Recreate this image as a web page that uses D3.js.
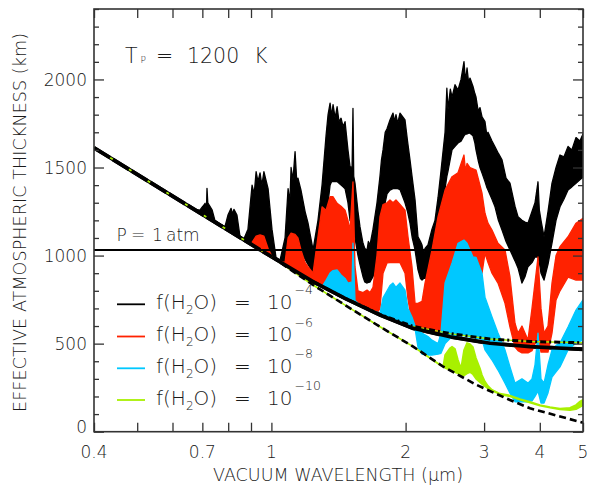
<!DOCTYPE html>
<html>
<head>
<meta charset="utf-8">
<script src="https://cdn.jsdelivr.net/npm/d3@7"></script>
<style>
  html, body { margin: 0; padding: 0; background: #ffffff; }
  svg { display: block; }
  text { font-family: "DejaVu Sans", sans-serif; font-weight: 200; fill: #1a1a1a; }
</style>
</head>
<body>
<svg id="chart" width="589" height="487"></svg>
<script>
// ---- axis ticks ----
const xTicksLabelled = [0.4, 0.7, 1, 2, 3, 4, 5];
const xTicksMinor = [0.5, 0.6, 0.8, 0.9];
const yTicksMajor = [0, 500, 1000, 1500, 2000];
const yTicksMinor = d3.range(0, 2401, 100).filter(v => v % 500 !== 0);

// ---- legend ----
const legendExponents = ["\u22124", "\u22126", "\u22128", "\u221210"];
const seriesColors = ["#000000", "#ff2200", "#00c8ff", "#a8f000"];

// ---- reference levels ----
const pressureLevel = 1032;   // km, P = 1 atm

// Continuum of the 10^-4 model (solid), [wavelength µm, km]
const continuum = [
  [0.4, 1612], [0.691, 1242], [1.003, 992], [1.24, 852], [1.463, 757],
  [1.752, 663], [2.08, 587], [2.516, 539], [3.093, 502], [3.802, 483], [5.0, 468]
];
// Upper window curve (dash-dot)
const windowUpper = [
  [0.4, 1612], [0.691, 1242], [1.003, 992], [1.24, 852], [1.463, 757],
  [1.752, 666], [2.08, 598], [2.516, 557], [3.093, 526], [3.802, 512], [5.0, 505]
];
// Pure Rayleigh curve (dashed)
const rayleigh = [
  [0.4, 1612], [0.691, 1242], [1.003, 992], [1.24, 833], [1.463, 719],
  [1.752, 596], [2.08, 483], [2.43, 369], [2.888, 265], [3.429, 180],
  [3.802, 133], [5.0, 51]
];

// Spectra as [wavelength µm, lower envelope km, upper envelope km]
const spectrumH2O4 = [
  [0.4, 1612, 1612], [0.674, 1260, 1262], [0.691, 1242, 1258], [0.702, 1236, 1280],
  [0.710, 1225, 1297], [0.715, 1222, 1260], [0.717, 1219, 1382], [0.720, 1216, 1300],
  [0.724, 1212, 1290], [0.736, 1202, 1260],
  [0.747, 1191, 1200], [0.767, 1173, 1180], [0.787, 1155, 1165], [0.799, 1150, 1230],
  [0.812, 1136, 1268], [0.818, 1130, 1235], [0.824, 1124, 1262], [0.837, 1115, 1230],
  [0.850, 1103, 1110], [0.868, 1090, 1095], [0.886, 1078, 1150], [0.905, 1070, 1400],
  [0.915, 1080, 1350], [0.924, 1090, 1476], [0.933, 1100, 1420], [0.943, 1120, 1470],
  [0.952, 1115, 1400], [0.962, 1110, 1476], [0.983, 1050, 1380], [1.003, 996, 1150],
  [1.024, 980, 990], [1.046, 965, 975], [1.073, 948, 1100], [1.090, 1000, 1380],
  [1.100, 1030, 1300], [1.107, 1050, 1500], [1.118, 1055, 1430], [1.130, 1060, 1590],
  [1.140, 1055, 1420], [1.147, 1050, 1440], [1.165, 1020, 1371],
  [1.190, 980, 1250], [1.208, 950, 1185], [1.240, 901, 1032], [1.272, 940, 1200],
  [1.299, 1000, 1400], [1.326, 1100, 1680], [1.340, 1300, 1800], [1.354, 1400, 1866],
  [1.365, 1420, 1790], [1.375, 1420, 1857], [1.390, 1420, 1780], [1.404, 1420, 1845],
  [1.418, 1410, 1760], [1.433, 1400, 1780], [1.448, 1390, 1732], [1.463, 1380, 1760],
  [1.485, 1300, 1600], [1.501, 1200, 1505], [1.517, 1180, 1500], [1.524, 1150, 1836],
  [1.530, 1130, 1450], [1.540, 1100, 1412],
  [1.564, 1000, 1250], [1.580, 950, 1164], [1.605, 880, 1070], [1.620, 850, 1040],
  [1.639, 844, 1032], [1.650, 848, 1080], [1.664, 850, 1060], [1.690, 880, 1150],
  [1.725, 950, 1298], [1.752, 1050, 1450], [1.765, 1120, 1540],
  [1.780, 1200, 1600], [1.800, 1300, 1700], [1.817, 1350, 1720], [1.845, 1372, 1770],
  [1.874, 1380, 1809], [1.890, 1380, 1760], [1.903, 1380, 1800], [1.920, 1380, 1750],
  [1.943, 1375, 1809], [1.994, 1300, 1770], [2.020, 1250, 1650], [2.046, 1184, 1543],
  [2.070, 1100, 1440], [2.100, 1032, 1316], [2.132, 920, 1107], [2.160, 870, 1080],
  [2.177, 861, 1060], [2.195, 870, 1010], [2.211, 870, 1040],
  [2.245, 880, 1060], [2.292, 960, 1150], [2.328, 1020, 1200], [2.365, 1100, 1330],
  [2.401, 1200, 1480], [2.452, 1380, 1700], [2.475, 1450, 1950], [2.490, 1480, 1830],
  [2.520, 1550, 1945], [2.542, 1600, 1900], [2.582, 1620, 1970], [2.622, 1639, 1940],
  [2.663, 1650, 2000], [2.704, 1680, 2101], [2.725, 1690, 1990], [2.747, 1690, 2065],
  [2.770, 1695, 1980], [2.789, 1695, 2008], [2.833, 1680, 1960], [2.860, 1640, 1920],
  [2.877, 1600, 1900], [2.910, 1540, 1820], [2.937, 1500, 1840], [2.968, 1468, 1787],
  [3.014, 1420, 1760], [3.040, 1390, 1690], [3.061, 1372, 1700],
  [3.125, 1320, 1650], [3.174, 1277, 1618], [3.230, 1200, 1580], [3.291, 1145, 1543],
  [3.360, 1080, 1440], [3.429, 1032, 1411],
  [3.519, 970, 1280], [3.574, 930, 1221], [3.648, 844, 1200], [3.705, 880, 1190],
  [3.763, 937, 1184], [3.842, 960, 1250], [3.902, 992, 1300], [3.963, 992, 1419],
  [3.990, 960, 1260], [4.025, 900, 1200], [4.088, 861, 1107], [4.173, 950, 1250],
  [4.260, 1071, 1411], [4.350, 1200, 1500], [4.440, 1277, 1571], [4.530, 1320, 1560],
  [4.628, 1372, 1620], [4.720, 1390, 1600], [4.823, 1411, 1670], [4.920, 1430, 1650],
  [5.0, 1446, 1690]
];
const spectrumH2O6 = [
  [0.905, 1070, 1075], [0.924, 1052, 1110], [0.943, 1034, 1117], [0.962, 1016, 1110],
  [0.983, 1000, 1040], [1.003, 992, 995], [1.046, 965, 968], [1.073, 948, 960],
  [1.090, 940, 1100], [1.107, 931, 1127], [1.130, 914, 1120], [1.147, 905, 1100],
  [1.165, 897, 1032], [1.190, 880, 960], [1.208, 870, 937], [1.240, 852, 900],
  [1.272, 835, 1107], [1.299, 820, 1277], [1.326, 810, 1258], [1.354, 800, 1334],
  [1.375, 795, 1334], [1.404, 780, 1297], [1.433, 770, 1280], [1.463, 760, 1258],
  [1.485, 755, 1200], [1.501, 750, 1145], [1.524, 745, 1419], [1.540, 740, 937],
  [1.564, 725, 800], [1.605, 710, 790], [1.639, 698, 804], [1.664, 688, 790],
  [1.690, 680, 820], [1.725, 672, 1000], [1.752, 700, 1221], [1.780, 900, 1290],
  [1.817, 958, 1300], [1.845, 960, 1316], [1.874, 960, 1300], [1.903, 960, 1316],
  [1.943, 960, 1290], [1.994, 900, 1258], [2.025, 750, 1107], [2.067, 620, 937],
  [2.100, 585, 729], [2.132, 578, 729], [2.177, 570, 740], [2.211, 565, 844],
  [2.292, 560, 1032], [2.365, 555, 1221], [2.452, 560, 1372], [2.542, 900, 1448],
  [2.622, 1000, 1470], [2.704, 1030, 1571], [2.725, 1030, 1480], [2.747, 1020, 1524],
  [2.789, 1000, 1500], [2.877, 960, 1486],
  [2.968, 900, 1354], [3.014, 1013, 1240], [3.061, 960, 1184], [3.125, 900, 1145],
  [3.223, 844, 1070], [3.342, 729, 1032], [3.429, 594, 880], [3.519, 481, 616],
  [3.574, 460, 560], [3.648, 447, 600], [3.763, 447, 520], [3.842, 460, 700],
  [3.963, 538, 992], [4.025, 452, 700], [4.088, 452, 560], [4.173, 452, 600],
  [4.260, 560, 844], [4.350, 748, 1000], [4.440, 800, 1050], [4.628, 878, 1107],
  [4.823, 861, 1184], [5.0, 861, 1212]
];
const spectrumH2O8 = [
  [1.272, 830, 835], [1.299, 820, 823], [1.326, 810, 860], [1.354, 800, 901],
  [1.375, 795, 915], [1.404, 780, 918], [1.433, 770, 890], [1.463, 760, 870],
  [1.485, 755, 844], [1.517, 748, 850], [1.524, 745, 1070], [1.540, 740, 745],
  [1.580, 716, 720], [1.690, 680, 684], [1.725, 672, 680], [1.752, 663, 672],
  [1.780, 655, 760], [1.817, 645, 800], [1.845, 640, 830], [1.874, 632, 844],
  [1.903, 625, 820], [1.943, 615, 844], [1.994, 605, 804], [2.025, 598, 700],
  [2.067, 590, 651], [2.100, 585, 600], [2.132, 480, 585], [2.177, 440, 560],
  [2.245, 435, 540], [2.292, 435, 520], [2.365, 440, 500], [2.401, 445, 560],
  [2.452, 500, 844], [2.542, 540, 958], [2.622, 545, 1070], [2.704, 545, 1088],
  [2.747, 540, 1070], [2.833, 535, 992], [2.877, 530, 990], [2.968, 525, 900],
  [3.014, 464, 764], [3.125, 407, 651], [3.223, 350, 560], [3.342, 276, 464],
  [3.429, 219, 368], [3.519, 170, 276], [3.648, 170, 300], [3.763, 170, 276],
  [3.842, 175, 300], [3.902, 200, 380], [3.963, 230, 560], [4.025, 163, 300],
  [4.088, 163, 276], [4.173, 220, 380], [4.260, 310, 464], [4.350, 340, 490],
  [4.440, 368, 503], [4.628, 464, 594], [4.823, 503, 691], [5.0, 521, 748]
];
const spectrumH2O10 = [
  [0.4, 1612, 1612], [0.691, 1242, 1242], [1.003, 992, 992], [1.24, 833, 833],
  [1.463, 719, 719], [1.752, 596, 596], [2.08, 483, 483], [2.389, 378, 380],
  [2.430, 369, 375], [2.452, 362, 436], [2.516, 350, 475], [2.542, 345, 483],
  [2.582, 338, 470], [2.622, 330, 407], [2.663, 322, 360], [2.704, 318, 464],
  [2.747, 330, 504], [2.789, 338, 498], [2.833, 325, 480], [2.877, 300, 418],
  [2.937, 280, 360], [2.968, 270, 322], [3.014, 258, 285], [3.061, 245, 260],
  [3.125, 232, 238], [3.257, 212, 216], [3.429, 200, 206], [3.611, 182, 186],
  [3.802, 165, 170], [4.004, 148, 152], [4.216, 136, 140], [4.44, 126, 131],
  [4.676, 122, 136], [4.823, 127, 152], [4.923, 140, 172], [5.0, 150, 182]
];
const spectra = [spectrumH2O4, spectrumH2O6, spectrumH2O8, spectrumH2O10];

// ---- layout ----
const plot = { left: 94, right: 583, top: 9, bottom: 431.7 };

const svg = d3.select("#chart");
const x = d3.scaleLog().domain([0.4, 5]).range([plot.left, plot.right]);
const y = d3.scaleLinear().domain([0, 2400]).range([plot.bottom, plot.top]);

svg.append("defs").append("clipPath").attr("id", "plotClip")
  .append("rect")
  .attr("x", plot.left).attr("y", plot.top)
  .attr("width", plot.right - plot.left).attr("height", plot.bottom - plot.top);

const g = svg.append("g").attr("clip-path", "url(#plotClip)");

const line = d3.line().x(d => x(d[0])).y(d => y(d[1]));
const band = d3.area().x(d => x(d[0])).y0(d => y(d[1])).y1(d => y(d[2]));

// continuum underneath the black spectrum
g.append("path").datum(continuum).attr("d", line)
  .attr("fill", "none").attr("stroke", "#000").attr("stroke-width", 3.8);

// spectra, drawn from the most humid to the driest
spectra.forEach((s, i) => {
  g.append("path").datum(s).attr("d", band)
    .attr("fill", seriesColors[i]).attr("stroke", seriesColors[i])
    .attr("stroke-width", i === 3 ? 1.6 : 1.3).attr("stroke-linejoin", "round");
});

// driest model along the upper window curve
g.append("path").datum(windowUpper.filter(d => d[0] >= 1.9)).attr("d", line)
  .attr("fill", "none").attr("stroke", seriesColors[3]).attr("stroke-width", 1.4);

// overlays: continuum, window curve (dash-dot) and Rayleigh curve (dashed)
g.append("path").datum(continuum.filter(d => d[0] >= 1.0)).attr("d", line)
  .attr("fill", "none").attr("stroke", "#000").attr("stroke-width", 3.6);
g.append("path").datum(windowUpper.filter(d => d[0] >= 1.24)).attr("d", line)
  .attr("fill", "none").attr("stroke", "#000").attr("stroke-width", 3)
  .attr("stroke-dasharray", "6,3,2,3");
g.append("path").datum(rayleigh.filter(d => d[0] <= 1.003)).attr("d", line)
  .attr("fill", "none").attr("stroke", "#000").attr("stroke-width", 3.8)
  .attr("stroke-dasharray", "19,3");
g.append("path").datum(rayleigh.filter(d => d[0] >= 1.003)).attr("d", line)
  .attr("fill", "none").attr("stroke", "#000").attr("stroke-width", 2.6)
  .attr("stroke-dasharray", "7,4");

// P = 1 atm level
g.append("line")
  .attr("x1", plot.left).attr("x2", plot.right)
  .attr("y1", y(pressureLevel)).attr("y2", y(pressureLevel))
  .attr("stroke", "#000").attr("stroke-width", 2);

// ---- frame and axes ----
const axisColor = "#333";
function styleAxis(sel) {
  sel.select(".domain").remove();
  sel.selectAll(".tick line").attr("stroke", axisColor).attr("stroke-width", 1.3);
  sel.selectAll("text").remove();
}
const xAllTicks = xTicksLabelled.concat(xTicksMinor);
svg.append("g").attr("transform", `translate(0,${plot.bottom})`)
  .call(d3.axisBottom(x).tickValues(xAllTicks).tickSize(-9)).call(styleAxis);
svg.append("g").attr("transform", `translate(0,${plot.top})`)
  .call(d3.axisTop(x).tickValues(xAllTicks).tickSize(-9)).call(styleAxis);
svg.append("g").attr("transform", `translate(${plot.left},0)`)
  .call(d3.axisLeft(y).tickValues(yTicksMajor).tickSize(-10)).call(styleAxis);
svg.append("g").attr("transform", `translate(${plot.left},0)`)
  .call(d3.axisLeft(y).tickValues(yTicksMinor).tickSize(-5)).call(styleAxis);
svg.append("g").attr("transform", `translate(${plot.right},0)`)
  .call(d3.axisRight(y).tickValues(yTicksMajor).tickSize(-10)).call(styleAxis);
svg.append("g").attr("transform", `translate(${plot.right},0)`)
  .call(d3.axisRight(y).tickValues(yTicksMinor).tickSize(-5)).call(styleAxis);

svg.append("rect")
  .attr("x", plot.left).attr("y", plot.top)
  .attr("width", plot.right - plot.left).attr("height", plot.bottom - plot.top)
  .attr("fill", "none").attr("stroke", axisColor).attr("stroke-width", 1.6);

// tick labels
svg.append("g").selectAll("text").data(xTicksLabelled).join("text")
  .attr("x", d => x(d)).attr("y", 458)
  .attr("text-anchor", "middle").attr("font-size", 17)
  .text(d => d3.format("")(d));
svg.append("g").selectAll("text").data(yTicksMajor).join("text")
  .attr("x", 87).attr("y", d => d === 0 ? y(d) + 1.5 : y(d) + 6.5)
  .attr("text-anchor", "end").attr("font-size", 17)
  .text(d => d);

// axis titles
svg.append("text")
  .attr("x", 338).attr("y", 481).attr("text-anchor", "middle")
  .attr("font-size", 17.5).attr("textLength", 250)
  .text("VACUUM WAVELENGTH (\u03bcm)");
svg.append("text")
  .attr("transform", "translate(26,222.5) rotate(-90)")
  .attr("text-anchor", "middle").attr("font-size", 17.5).attr("textLength", 379)
  .text("EFFECTIVE ATMOSPHERIC THICKNESS (km)");

// title
const title = svg.append("g");
title.append("text").attr("x", 125).attr("y", 63).attr("font-size", 20.5).text("T");
title.append("text").attr("x", 140.5).attr("y", 63).attr("font-size", 9).attr("font-weight", 700).text("P");
title.append("text").attr("x", 156).attr("y", 63).attr("font-size", 20.5).text("=");
title.append("text").attr("x", 187).attr("y", 63).attr("font-size", 20.5).text("1200");
title.append("text").attr("x", 254).attr("y", 63).attr("font-size", 20.5).text("K");

// pressure label
const pLabel = svg.append("g");
pLabel.append("text").attr("x", 116.5).attr("y", 240.5).attr("font-size", 17).text("P");
pLabel.append("text").attr("x", 131).attr("y", 240.5).attr("font-size", 17).text("=");
pLabel.append("text").attr("x", 152).attr("y", 240.5).attr("font-size", 17).text("1");
pLabel.append("text").attr("x", 166).attr("y", 240.5).attr("font-size", 17).text("atm");

// legend
const legendRows = [304.3, 336.5, 368.3, 400];
legendRows.forEach((ly, i) => {
  const lg = svg.append("g");
  lg.append("line").attr("x1", 117).attr("x2", 145).attr("y1", ly).attr("y2", ly)
    .attr("stroke", seriesColors[i]).attr("stroke-width", 1.8);
  const b = ly + 4.5;
  const t = lg.append("text").attr("x", 156).attr("y", b).attr("font-size", 20);
  t.append("tspan").text("f(H");
  t.append("tspan").attr("dy", 5).attr("font-size", 12).text("2");
  t.append("tspan").attr("dy", -5).text("O)");
  lg.append("text").attr("x", 234).attr("y", b).attr("font-size", 20).text("=");
  lg.append("text").attr("x", 267).attr("y", b).attr("font-size", 20).text("10");
  lg.append("text").attr("x", 294.5).attr("y", b - 14.5).attr("font-size", 12.5).text(legendExponents[i]);
});
</script>
</body>
</html>
